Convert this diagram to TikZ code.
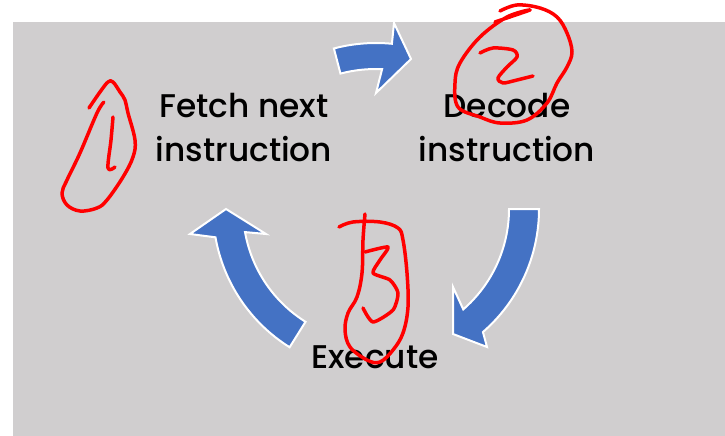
\documentclass[tikz,border=0pt]{standalone}
\usepackage{fontspec}
\setmainfont{Poppins}[UprightFont={* Medium}]
\usetikzlibrary{calc}
\definecolor{bggray}{RGB}{208,206,207}
\definecolor{arrowblue}{RGB}{68,114,196}
\begin{document}
\begin{tikzpicture}[x=1pt,y=-1pt,
  blockarrow/.style={fill=arrowblue,draw=white,line width=2pt,line join=miter},
  label/.style={inner sep=0pt,align=center,font=\fontsize{32.8}{44}\selectfont,text=black},
  ink/.style={draw=red,line width=3.5pt,line cap=round,line join=round}]
\useasboundingbox (0,0) rectangle (725,436);
\fill[white] (0,0) rectangle (725,436);
\fill[bggray] (13,22) rectangle (725,436);
\coordinate (C) at (376,209);
% block arrows
\filldraw[blockarrow] ($(C)+(-104.7:140)$) -- ($(C)+(-104.7:166)$) arc[start angle=-104.7,end angle=-84.5,radius=166] -- (394,23) -- (411,59) -- (376,93) -- ($(C)+(-87.5:140)$) arc[start angle=-87.5,end angle=-104.7,radius=140] -- cycle;
\filldraw[blockarrow] ($(C)+(0:133)$) -- ($(C)+(0:163)$) arc[start angle=0,end angle=49,radius=163] -- (487,347) -- (453,334) -- (453,287) -- ($(C)+(49:133)$) arc[start angle=49,end angle=0,radius=133] -- cycle;
\filldraw[blockarrow] ($(C)+(122:133)$) -- ($(C)+(122:163)$) arc[start angle=122,end angle=170,radius=163] -- (190,234) -- (226,209) -- (266,234) -- ($(C)+(170:133)$) arc[start angle=170,end angle=122,radius=133] -- cycle;
% labels
\node[label] (fetch) at (244,127.5) {Fetch next\\instruction};
\node[label] (decode) at (507,127.5) {Decode\\instruction};
\node[label] (execute) at (375,357) {Execute};
% handwritten annotations
\draw[ink] plot[smooth,tension=0.6] coordinates {(89,108) (100,92) (108,82) (113,82) (120,92) (125,100) (128,113) (135,140) (133,157) (123,177) (107,200) (97,208) (80,211) (67,205) (62,193) (67,180) (80,153) (97,113) (104,102)};
\draw[ink] plot[smooth,tension=0.6] coordinates {(113,117) (111,140) (108,168) (115,167)};
\draw[ink] plot[smooth,tension=0.6] coordinates {(495,22) (530,10) (507,17) (480,37) (460,63) (455,83) (458,107) (480,117) (500,123) (527,120) (547,103) (557,83) (567,67) (572,52) (567,33) (557,17) (540,8) (517,5) (500,11)};
\draw[ink] plot[smooth,tension=0.5] coordinates {(480,53) (493,48) (513,50) (517,57) (507,67) (498,78) (503,83) (517,80) (533,76)};
\draw[ink] plot[smooth,tension=0.6] coordinates {(339,227) (353,222) (380,222) (398,228) (403,240) (407,273) (408,307) (403,333) (393,350) (380,362) (367,360) (350,347) (345,330) (348,313) (357,297) (362,273) (363,240) (365,214)};
\draw[ink] plot[smooth,tension=0.4] coordinates {(365,252) (388,247) (380,260) (373,273) (390,280) (398,293) (393,310) (373,322) (363,308)};
\end{tikzpicture}
\end{document}
